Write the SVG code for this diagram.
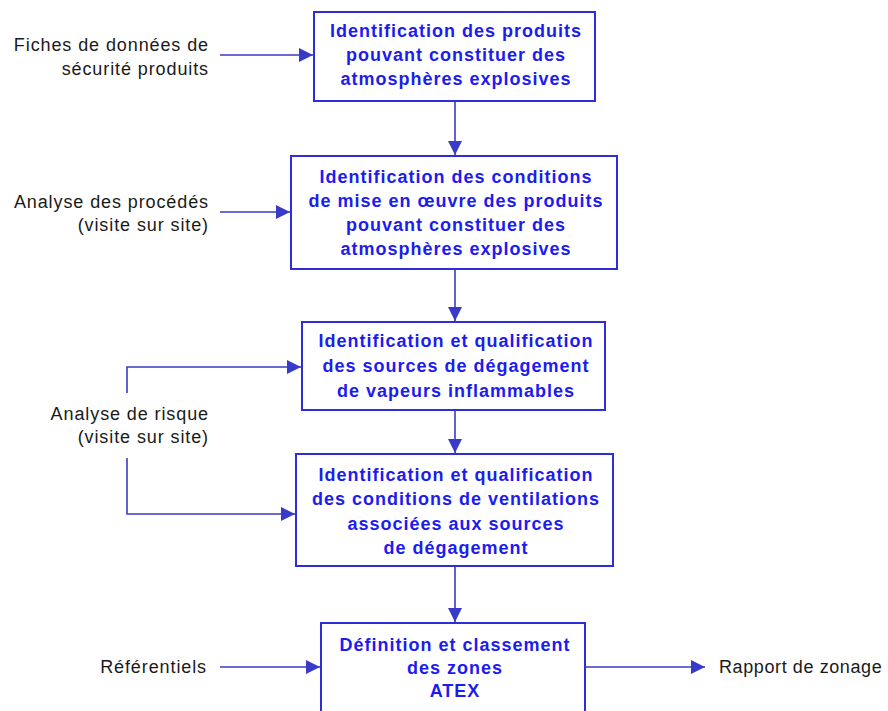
<svg xmlns="http://www.w3.org/2000/svg" width="888" height="711" viewBox="0 0 888 711">
<style>
.box{fill:#fff;stroke:#2e2ed8;stroke-width:2}
.bt{font-family:"Liberation Sans",Arial,sans-serif;font-weight:bold;font-size:18px;letter-spacing:1px;fill:#1c1cf0;text-anchor:middle}
.lt{font-family:"Liberation Sans",Arial,sans-serif;font-size:18px;letter-spacing:0.9px;fill:#1a1a1a;text-anchor:end}
.ln{fill:none;stroke:#3a3ac8;stroke-width:1.6}
</style>
<defs>
<marker id="ah" viewBox="0 0 14 14" refX="14" refY="7" markerWidth="14" markerHeight="14" markerUnits="userSpaceOnUse" orient="auto">
<path d="M0,0 L14,7 L0,14 Z" fill="#3a3ac8"/>
</marker>
</defs>
<rect width="888" height="711" fill="#fff"/>
<g id="connectors">
<line class="ln" x1="220" y1="55" x2="313" y2="55" marker-end="url(#ah)"/>
<line class="ln" x1="455" y1="101" x2="455" y2="155" marker-end="url(#ah)"/>
<line class="ln" x1="220" y1="212" x2="290" y2="212" marker-end="url(#ah)"/>
<line class="ln" x1="455" y1="269" x2="455" y2="321" marker-end="url(#ah)"/>
<polyline class="ln" points="127,393 127,367 301,367" marker-end="url(#ah)"/>
<line class="ln" x1="455" y1="410" x2="455" y2="453" marker-end="url(#ah)"/>
<polyline class="ln" points="127,458 127,514 295,514" marker-end="url(#ah)"/>
<line class="ln" x1="455" y1="566" x2="455" y2="622" marker-end="url(#ah)"/>
<line class="ln" x1="220" y1="667" x2="320" y2="667" marker-end="url(#ah)"/>
<line class="ln" x1="585" y1="667" x2="705" y2="667" marker-end="url(#ah)"/>
</g>
<g id="n1">
<rect class="box" x="314" y="12" width="281" height="89"/>
<text class="bt" x="456" y="37">Identification des produits</text>
<text class="bt" x="456" y="61">pouvant constituer des</text>
<text class="bt" x="456" y="85">atmosphères explosives</text>
</g>
<g id="n2">
<rect class="box" x="291" y="156" width="326" height="113"/>
<text class="bt" x="456" y="183">Identification des conditions</text>
<text class="bt" x="456" y="207">de mise en œuvre des produits</text>
<text class="bt" x="456" y="231">pouvant constituer des</text>
<text class="bt" x="456" y="255">atmosphères explosives</text>
</g>
<g id="n3">
<rect class="box" x="302" y="322" width="303" height="88"/>
<text class="bt" x="456" y="347">Identification et qualification</text>
<text class="bt" x="456" y="372">des sources de dégagement</text>
<text class="bt" x="456" y="397">de vapeurs inflammables</text>
</g>
<g id="n4">
<rect class="box" x="296" y="454" width="317" height="112"/>
<text class="bt" x="456" y="481">Identification et qualification</text>
<text class="bt" x="456" y="505">des conditions de ventilations</text>
<text class="bt" x="456" y="530">associées aux sources</text>
<text class="bt" x="456" y="554">de dégagement</text>
</g>
<g id="n5">
<rect class="box" x="321" y="623" width="264" height="100"/>
<text class="bt" x="455" y="651">Définition et classement</text>
<text class="bt" x="455" y="674">des zones</text>
<text class="bt" x="455" y="697">ATEX</text>
</g>
<g id="labels">
<text class="lt" x="209" y="51">Fiches de données de</text>
<text class="lt" x="209" y="75">sécurité produits</text>
<text class="lt" x="209" y="208">Analyse des procédés</text>
<text class="lt" x="209" y="231">(visite sur site)</text>
<text class="lt" x="209" y="420">Analyse de risque</text>
<text class="lt" x="209" y="443">(visite sur site)</text>
<text class="lt" x="207" y="673">Référentiels</text>
<text class="lt" x="719" y="673" style="text-anchor:start;letter-spacing:0.6px">Rapport de zonage</text>
</g>
</svg>
